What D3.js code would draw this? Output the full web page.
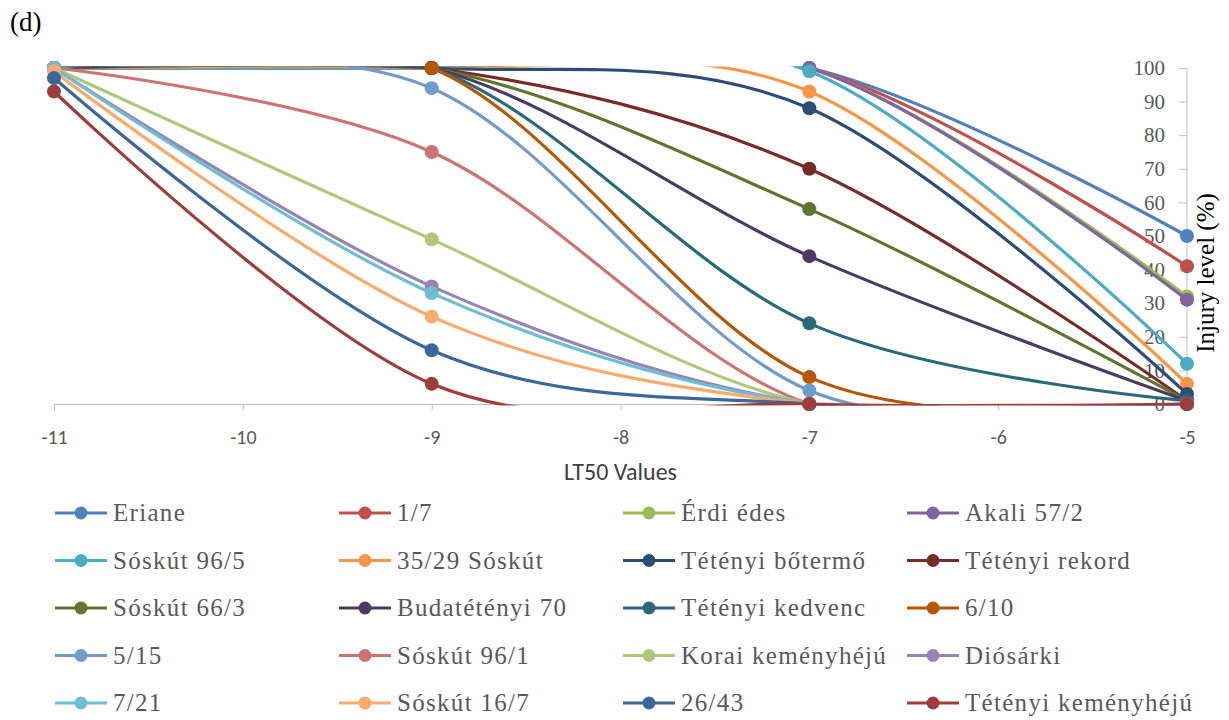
<!DOCTYPE html>
<html>
<head>
<meta charset="utf-8">
<script src="https://cdn.jsdelivr.net/npm/d3@7"></script>
<style>
  body { margin: 0; background: #ffffff; }
  svg { display: block; }
</style>
</head>
<body>
<svg id="chart" width="1229" height="720"></svg>
<script>
// LT50 temperatures at which injury was scored
const ltValues = [-11, -9, -7, -5];
const xTickValues = [-11, -10, -9, -8, -7, -6, -5];
const yTickValues = [0, 10, 20, 30, 40, 50, 60, 70, 80, 90, 100];

// Cultivars, in legend order
const cultivars = [
  "Eriane", "1/7", "Érdi édes", "Akali 57/2",
  "Sóskút 96/5", "35/29 Sóskút", "Tétényi bőtermő", "Tétényi rekord",
  "Sóskút 66/3", "Budatétényi 70", "Tétényi kedvenc", "6/10",
  "5/15", "Sóskút 96/1", "Korai keményhéjú", "Diósárki",
  "7/21", "Sóskút 16/7", "26/43", "Tétényi keményhéjú"
];

// Injury level (%) at -11, -9, -7, -5 for each cultivar
const injury = [
  [100, 100, 100, 50],
  [100, 100, 100, 41],
  [100, 100, 100, 32],
  [100, 100, 100, 31],
  [100, 100, 99, 12],
  [100, 100, 93, 6],
  [100, 100, 88, 3],
  [100, 100, 70, 1],
  [100, 100, 58, 1],
  [100, 100, 44, 1],
  [100, 100, 24, 1],
  [100, 100, 8, 0],
  [100, 94, 4, 0],
  [100, 75, 0, 0],
  [100, 49, 0, 0],
  [100, 35, 0, 0],
  [100, 33, 0, 0],
  [99, 26, 0, 0],
  [97, 16, 0, 0],
  [93, 6, 0, 0]
];

const seriesColors = [
  "#4F81BD", "#C0504D", "#9BBB59", "#8064A2",
  "#4BACC6", "#F79646", "#2C4D75", "#772C2A",
  "#5F7530", "#4D3B62", "#276A7C", "#B65708",
  "#729ACA", "#CD7371", "#AFC97A", "#9983B5",
  "#6FBDD1", "#F9AB6B", "#3A679C", "#9E3D3A"
];

const serif = "'Liberation Serif', 'Times New Roman', Times, serif";
const sans = "'Liberation Sans Narrow', Carlito, 'Liberation Sans', sans-serif";

const svg = d3.select("#chart");

const x = d3.scaleLinear().domain([-11, -5]).range([54, 1187]);
const y = d3.scaleLinear().domain([0, 100]).range([404, 68]);

// Panel label
svg.append("text")
  .attr("x", 10).attr("y", 31)
  .attr("font-family", serif)
  .attr("font-size", 27)
  .attr("fill", "#000")
  .text("(d)");

// Horizontal axis
const xAxis = d3.axisBottom(x)
  .tickValues(xTickValues)
  .tickFormat(d3.format("d"))
  .tickSize(6)
  .tickPadding(20);

const gx = svg.append("g")
  .attr("transform", `translate(0,${y(0)})`)
  .call(xAxis);
gx.select(".domain").attr("stroke", "#BFBFBF").attr("stroke-width", 1);
gx.selectAll(".tick line").attr("stroke", "#BFBFBF");
gx.selectAll(".tick text")
  .attr("font-family", sans)
  .attr("font-size", 20)
  .attr("fill", "#595959")
  .text(d => d < 0 ? "-" + Math.abs(d) : d);

svg.append("text")
  .attr("x", (x(-11) + x(-5)) / 2)
  .attr("y", 480)
  .attr("text-anchor", "middle")
  .attr("font-family", sans)
  .attr("font-size", 24)
  .attr("fill", "#404040")
  .text("LT50 Values");

// Vertical axis drawn at the -5 end, labels on the inner side
const yAxis = d3.axisLeft(y)
  .tickValues(yTickValues)
  .tickSize(8)
  .tickPadding(14);

const gy = svg.append("g")
  .attr("transform", `translate(${x(-5)},0)`)
  .call(yAxis);
gy.select(".domain").attr("stroke", "#BFBFBF").attr("stroke-width", 1).attr("d", `M0,${y(0)}V${y(100)}`);
gy.selectAll(".tick line").attr("stroke", "#BFBFBF");
gy.selectAll(".tick text")
  .attr("font-family", serif)
  .attr("font-size", 21)
  .attr("fill", "#595959");

svg.append("text")
  .attr("transform", `translate(1214,273) rotate(-90)`)
  .attr("text-anchor", "middle")
  .attr("font-family", serif)
  .attr("font-size", 25)
  .attr("fill", "#000")
  .text("Injury level (%)");

// Plot area clip so smoothed curves stay within 0–100
svg.append("clipPath").attr("id", "plot-clip")
  .append("rect")
  .attr("x", x(-11) - 10)
  .attr("y", y(100) - 1.5)
  .attr("width", x(-5) - x(-11) + 20)
  .attr("height", y(0) - y(100) + 3);

const line = d3.line()
  .x(d => x(d[0]))
  .y(d => y(d[1]))
  .curve(d3.curveCardinal.tension(0));

const plot = svg.append("g");

cultivars.forEach((name, i) => {
  const pts = ltValues.map((lt, j) => [lt, injury[i][j]]);
  const g = plot.append("g");
  g.append("path")
    .datum(pts)
    .attr("clip-path", "url(#plot-clip)")
    .attr("fill", "none")
    .attr("stroke", seriesColors[i])
    .attr("stroke-width", 3.2)
    .attr("d", line);
  g.selectAll("circle")
    .data(pts)
    .join("circle")
    .attr("cx", d => x(d[0]))
    .attr("cy", d => y(d[1]))
    .attr("r", 7)
    .attr("fill", seriesColors[i]);
});

// Legend: four columns, row-major
const legend = svg.append("g");
const colStep = 284, rowStep = 47.5;
cultivars.forEach((name, i) => {
  const col = i % 4, row = Math.floor(i / 4);
  const lx = 55 + col * colStep;
  const ly = 513 + row * rowStep;
  const item = legend.append("g").attr("transform", `translate(${lx},${ly})`);
  item.append("line")
    .attr("x1", 0).attr("x2", 52).attr("y1", 0).attr("y2", 0)
    .attr("stroke", seriesColors[i]).attr("stroke-width", 3);
  item.append("circle")
    .attr("cx", 26).attr("cy", 0).attr("r", 6.5)
    .attr("fill", seriesColors[i]);
  item.append("text")
    .attr("x", 58).attr("y", 0).attr("dy", "0.33em")
    .attr("font-family", serif)
    .attr("font-size", 25)
    .attr("letter-spacing", 1.3)
    .attr("fill", "#595959")
    .text(name);
});
</script>
</body>
</html>
